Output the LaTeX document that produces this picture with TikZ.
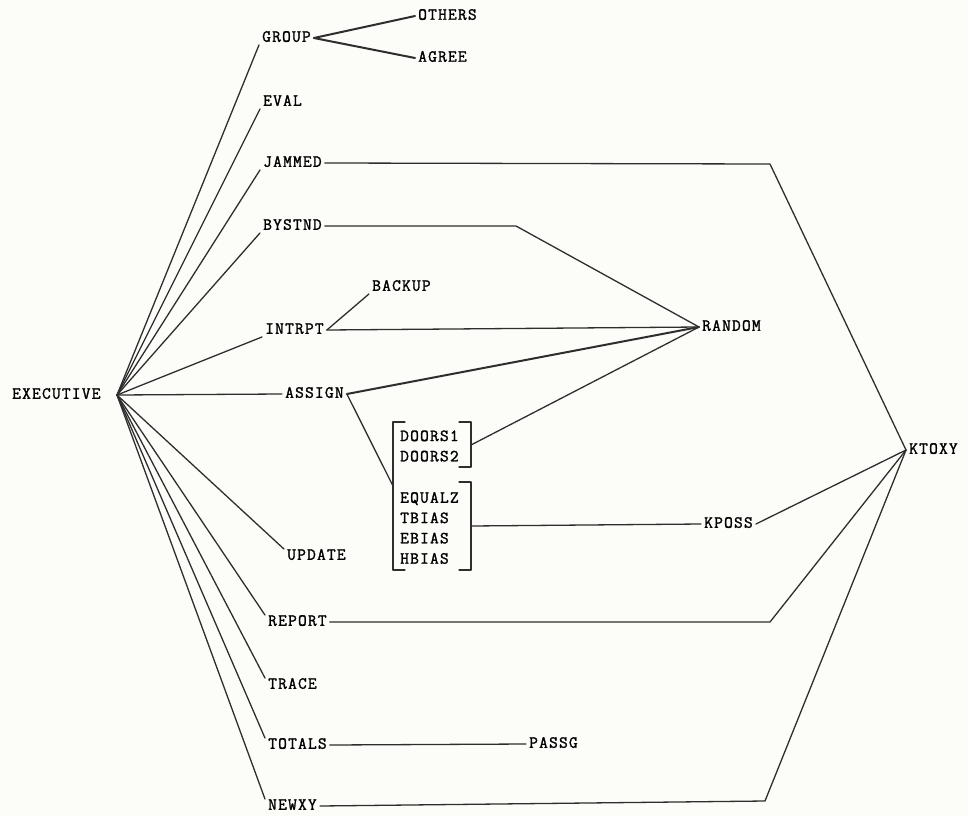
\documentclass[tikz,border=0pt]{standalone}
\usepackage{fontspec}
\newfontfamily\twfam[LetterSpace=7,FakeBold=1.5]{Latin Modern Mono}
\newcommand{\tw}{\twfam\fontsize{17}{20.3}\selectfont}
\begin{document}
\begin{tikzpicture}[x=1pt,y=-1pt,
  lbl/.style={font=\tw, anchor=west, inner sep=3pt, text height=7.5pt, text depth=0pt},
  multi/.style={font=\tw, anchor=west, inner sep=0pt, align=left},
  conn/.style={line width=1.3pt, line join=round, line cap=round, draw=black!82},
  heavy/.style={line width=2pt, line join=round, line cap=round, draw=black!82}]
\definecolor{paper}{RGB}{252,252,249}
\useasboundingbox (0,0) rectangle (968,816);
\fill[paper] (0,0) rectangle (968,816);

% nodes
\node[lbl] (exec)   at (9,395)   {EXECUTIVE};
\node[lbl] (group)  at (259,38)  {GROUP};
\node[lbl] (others) at (415,16)  {OTHERS};
\node[lbl] (agree)  at (415,58)  {AGREE};
\node[lbl] (eval)   at (260,102) {EVAL};
\node[lbl] (jammed) at (260,163) {JAMMED};
\node[lbl] (bystnd) at (260,226) {BYSTND};
\node[lbl] (backup) at (369,287) {BACKUP};
\node[lbl] (intrpt) at (262,330) {INTRPT};
\node[lbl] (assign) at (282,394) {ASSIGN};
\node[lbl] (random) at (699,327) {RANDOM};
\node[multi] (doors) at (400,446) {DOORS1\\DOORS2};
\node[multi] (equalz) at (400,528) {EQUALZ\\TBIAS\\EBIAS\\HBIAS};
\node[lbl] (update) at (284,556) {UPDATE};
\node[lbl] (kposs)  at (701,524) {KPOSS};
\node[lbl] (ktoxy)  at (906,450) {KTOXY};
\node[lbl] (report) at (265,622) {REPORT};
\node[lbl] (trace)  at (265,685) {TRACE};
\node[lbl] (totals) at (265,745) {TOTALS};
\node[lbl] (passg)  at (526,744) {PASSG};
\node[lbl] (newxy)  at (265,806) {NEWXY};

% helper coordinates
\coordinate (fan) at (117,395);
\coordinate (jc) at (770,164);
\coordinate (bc) at (516,226);
\coordinate (rc) at (770,622);
\coordinate (nc) at (765,801);
\coordinate (b1) at (471,445);
\coordinate (b2) at (471,526);
\coordinate (bin) at (393,486);

% brackets
\draw[conn] (405,422) -- (393,422) -- (393,570) -- (405,570);
\draw[conn] (459,422) -- (471,422) -- (471,467) -- (459,467);
\draw[conn] (459,482) -- (471,482) -- (471,570) -- (459,570);

% fan from EXECUTIVE
\draw[conn] (fan) -- (group.south west);
\draw[conn] (fan) -- (eval.south west);
\draw[conn] (fan) -- (jammed.south west);
\draw[conn] (fan) -- (bystnd.south west);
\draw[conn] (fan) -- (intrpt.south west);
\draw[conn] (fan) -- (assign.west);
\draw[conn] (fan) -- (update.north west);
\draw[conn] (fan) -- (report.north west);
\draw[conn] (fan) -- (trace.north west);
\draw[conn] (fan) -- (totals.north west);
\draw[conn] (fan) -- (newxy.north west);

% GROUP
\draw[heavy] (group.east) -- (others.west);
\draw[heavy] (group.east) -- (agree.west);

% RANDOM connections
\draw[conn] (bystnd.east) -- (bc) -- (random.west);
\draw[conn] (intrpt.east) -- (random.west);
\draw[conn] (intrpt.east) -- (backup.south west);
\draw[heavy] (assign.east) -- (random.west);
\draw[conn] (assign.east) -- (bin);
\draw[conn] (b1) -- (random.west);

% KTOXY connections
\draw[conn] (jammed.east) -- (jc) -- (ktoxy.west);
\draw[conn] (b2) -- (kposs.west);
\draw[conn] (kposs.east) -- (ktoxy.west);
\draw[conn] (report.east) -- (rc) -- (ktoxy.west);
\draw[conn] (newxy.east) -- (nc) -- (ktoxy.west);
\draw[conn] (totals.east) -- (passg.west);
\end{tikzpicture}
\end{document}
